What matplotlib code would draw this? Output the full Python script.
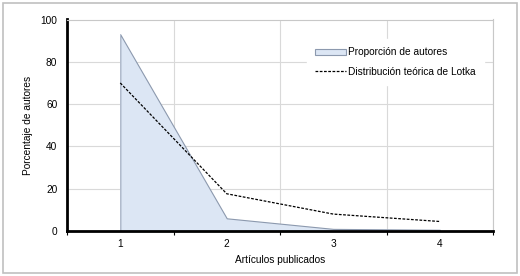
import matplotlib
import matplotlib.pyplot as plt
from matplotlib.patches import Rectangle

articulos = [1, 2, 3, 4]
proporcion = [93.0, 6.0, 1.0, 0.6]
lotka = [70.0, 17.6, 8.0, 4.5]
tick_labels = ["1", "2", "3", "4"]

font = {'family': 'Liberation Sans', 'weight': 'normal', 'size': 7.3}
matplotlib.rc('font', **font)

fig = plt.figure(figsize=(5.2, 2.76), dpi=100)
ax = fig.add_axes([67 / 520, 1 - 231 / 276, (493 - 67) / 520, (231 - 19.5) / 276])

ax.fill_between(articulos, proporcion, 0, facecolor="#dce6f4", edgecolor="#8c99ae",
                linewidth=0.8, label="Proporción de autores", zorder=2)
ax.plot([1, 1], [0, proporcion[0]], color="#b5bfcf", linewidth=0.6, zorder=2)
ax.plot(articulos, lotka, color="black", linestyle=(0, (2.2, 1.2)), linewidth=0.9,
        label="Distribución teórica de Lotka", zorder=3)

ax.set_xlim(0.5, 4.5)
ax.set_ylim(0, 100)
ax.set_yticks([0, 20, 40, 60, 80, 100])
ax.set_xticks(articulos)
ax.set_xticklabels(tick_labels)
ax.set_xticks([0.5, 1.5, 2.5, 3.5, 4.5], minor=True)
ax.tick_params(axis="x", which="major", length=0, pad=6)
ax.tick_params(axis="x", which="minor", length=3, width=0.8, color="black")
ax.tick_params(axis="y", length=0, pad=7)

ax.grid(axis="y", color="#d9d9d9", linewidth=0.8, zorder=0)
ax.grid(axis="x", which="minor", color="#d9d9d9", linewidth=0.8, zorder=0)
ax.set_axisbelow(True)

for s in ["top", "right"]:
    ax.spines[s].set_color("#c8c8c8")
    ax.spines[s].set_linewidth(0.8)
for s in ["left", "bottom"]:
    ax.spines[s].set_color("black")
    ax.spines[s].set_linewidth(2)

ax.set_xlabel("Artículos publicados", labelpad=4)
ax.set_ylabel("Porcentaje de autores", labelpad=5)

leg = ax.legend(loc="upper right", bbox_to_anchor=(0.99, 0.93), frameon=True,
                fancybox=False, edgecolor="white", framealpha=1,
                handlelength=3.0, handleheight=0.6, handletextpad=0.2,
                borderpad=0.8, labelspacing=0.9)

fig.patches.append(Rectangle((3 / 520, 3 / 276), 514 / 520, 270 / 276, transform=fig.transFigure,
                             fill=False, edgecolor="#c0c0c0", linewidth=1.2))

plt.savefig("out.png", dpi=100)
